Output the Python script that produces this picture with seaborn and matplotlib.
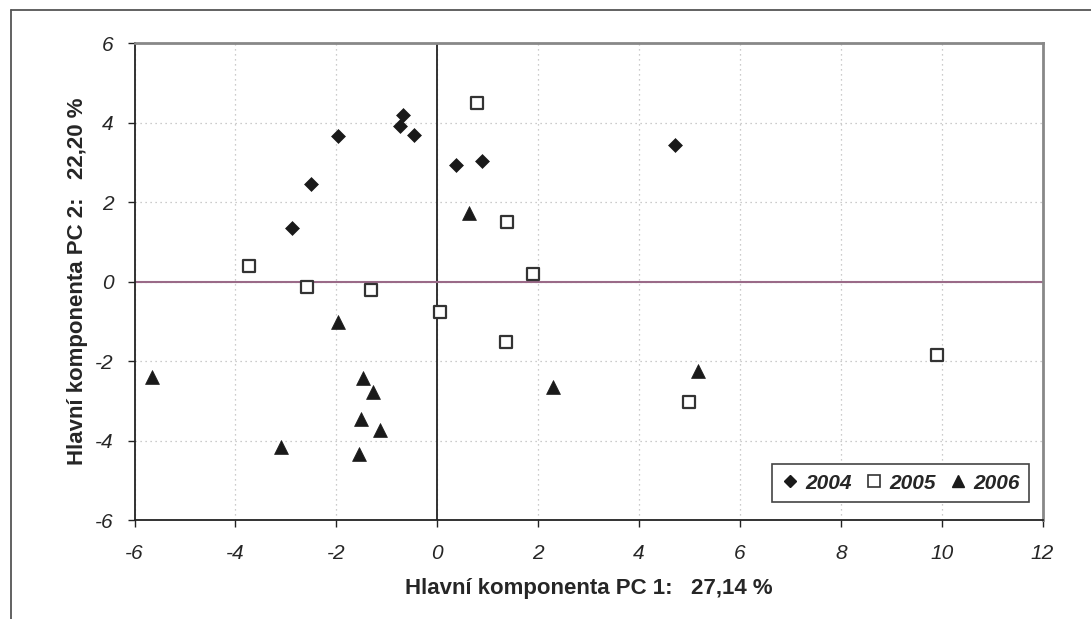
import numpy as np
import pandas as pd
import matplotlib
matplotlib.use('Agg')
import matplotlib.pyplot as plt
import seaborn as sns
from matplotlib.lines import Line2D

# PCA scores
pc1_2004 = [-2.88, -2.50, -1.97, -0.67, -0.73, -0.45, 0.38, 0.89, 4.72]
pc2_2004 = [1.35, 2.45, 3.65, 4.20, 3.90, 3.69, 2.94, 3.02, 3.44]

pc1_2005 = [0.79, 1.39, -3.74, -2.58, -1.32, 0.05, 1.36, 1.90, 5.00, 9.90]
pc2_2005 = [4.49, 1.49, 0.38, -0.15, -0.22, -0.77, -1.53, 0.19, -3.04, -1.85]

pc1_2006 = [-5.65, -1.96, -1.47, -1.28, -1.52, -1.13, -3.10, -1.55, 2.30, 0.63, 5.16]
pc2_2006 = [-2.41, -1.01, -2.43, -2.77, -3.47, -3.74, -4.16, -4.34, -2.66, 1.72, -2.25]

years = ['2004', '2005', '2006']
x_ticks = [-6, -4, -2, 0, 2, 4, 6, 8, 10, 12]
y_ticks = [-6, -4, -2, 0, 2, 4, 6]

df = pd.concat([
    pd.DataFrame({'pc1': pc1_2004, 'pc2': pc2_2004, 'rok': '2004'}),
    pd.DataFrame({'pc1': pc1_2005, 'pc2': pc2_2005, 'rok': '2005'}),
    pd.DataFrame({'pc1': pc1_2006, 'pc2': pc2_2006, 'rok': '2006'}),
])

sns.set_style('white')
plt.rcParams['font.family'] = ['Liberation Sans', 'DejaVu Sans']

fig = plt.figure(figsize=(10.91, 6.19), dpi=100)
ax = fig.add_axes([0.1233, 0.1599, 0.8323, 0.7706])

styles = {
    '2004': dict(marker='D', s=50, color='#1a1a1a', edgecolor='#1a1a1a', linewidth=0.5),
    '2005': dict(marker='s', s=64, color='white', edgecolor='#333333', linewidth=1.6),
    '2006': dict(marker='^', s=100, color='#1a1a1a', edgecolor='#1a1a1a', linewidth=0.5),
}

# zero lines
ax.axvline(0, color='#222222', lw=1.3, zorder=1)
ax.axhline(0, color='#9a6a88', lw=1.5, zorder=1)

for yr in years:
    sub = df[df['rok'] == yr]
    sns.scatterplot(data=sub, x='pc1', y='pc2', ax=ax, zorder=3, legend=False, **styles[yr])

ax.set_xlim(-6, 12)
ax.set_ylim(-6, 6)
ax.set_xticks(x_ticks)
ax.set_yticks(y_ticks)
ax.set_xticklabels([str(t) for t in x_ticks], fontstyle='italic', fontsize=15)
ax.set_yticklabels([str(t) for t in y_ticks], fontstyle='italic', fontsize=15)
ax.tick_params(axis='x', direction='out', length=5, width=1, color='#222222', pad=12, bottom=True)
ax.tick_params(axis='y', direction='out', length=5, width=1, color='#222222', pad=10, left=True)

ax.grid(True, linestyle=(0, (1, 3)), color='#bbbbbb', lw=0.9)
ax.set_axisbelow(True)

for side in ['left', 'bottom']:
    ax.spines[side].set_color('#222222')
    ax.spines[side].set_linewidth(1.3)
for side in ['top', 'right']:
    ax.spines[side].set_color('#888888')
    ax.spines[side].set_linewidth(2)

ax.set_xlabel('Hlavní komponenta PC 1:   27,14 %', fontsize=16, fontweight='bold', labelpad=11)
ax.set_ylabel('Hlavní komponenta PC 2:   22,20 %', fontsize=16, fontweight='bold', labelpad=5)

handles = [
    Line2D([], [], ls='none', marker='D', ms=6.5, mfc='#1a1a1a', mec='#1a1a1a'),
    Line2D([], [], ls='none', marker='s', ms=8, mfc='white', mec='#333333', mew=1.2),
    Line2D([], [], ls='none', marker='^', ms=9, mfc='#1a1a1a', mec='#1a1a1a'),
]
leg = ax.legend(handles, years, loc='lower right', bbox_to_anchor=(0.985, 0.038), ncol=3,
                frameon=True, fancybox=False, framealpha=1, edgecolor='#444444',
                handletextpad=0.25, columnspacing=0.65, borderpad=0.45, handlelength=0.9,
                borderaxespad=0, prop={'size': 15, 'weight': 'bold', 'style': 'italic'})
leg.get_frame().set_linewidth(1.2)

# outer frame of the chart area
fig.add_artist(Line2D([10.5 / 1091, 10.5 / 1091], [0, 1 - 10 / 619], transform=fig.transFigure,
                      color='#555555', lw=1.3))
fig.add_artist(Line2D([10.5 / 1091, 1], [1 - 10 / 619, 1 - 10 / 619], transform=fig.transFigure,
                      color='#555555', lw=1.3))

fig.savefig('out.png', dpi=100)
